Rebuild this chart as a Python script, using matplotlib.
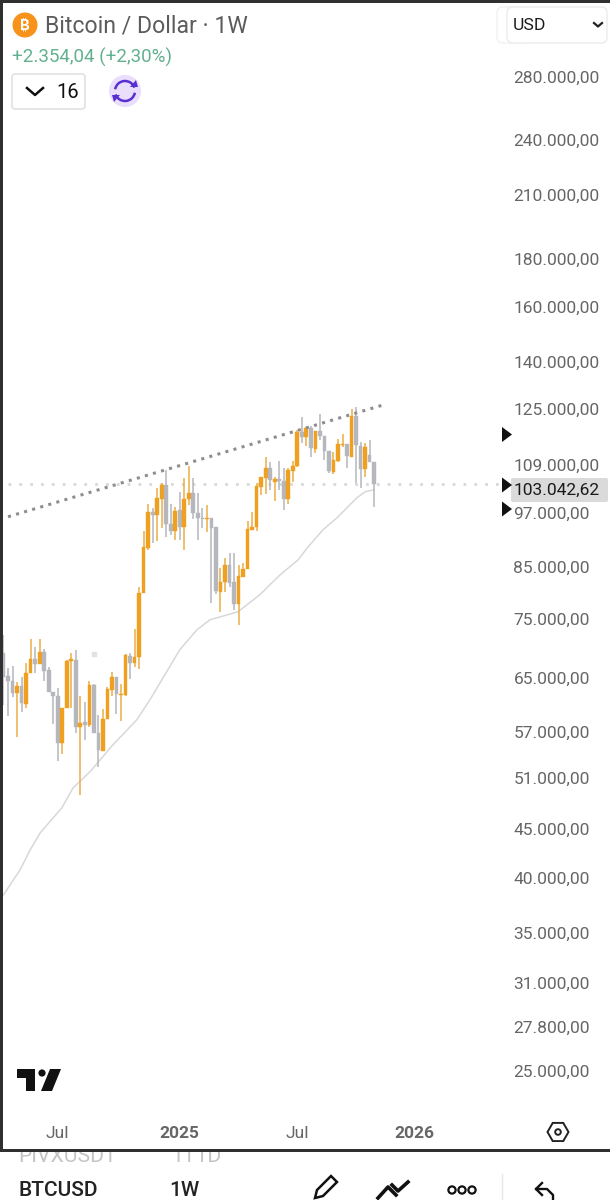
import matplotlib
matplotlib.use('Agg')
import matplotlib.pyplot as plt
from matplotlib.patches import Circle, Rectangle, Polygon, FancyBboxPatch, Arc, RegularPolygon

plt.rcParams['font.family'] = ['Roboto', 'DejaVu Sans']

# weekly candles
opens = [69060, 65300, 64520, 62670, 63740, 61010, 65800, 68060, 67250, 69230,
         66270, 62820, 62220, 55500, 60410, 67740, 67900, 57700, 58400, 57980,
         63890, 56860, 54430, 58840, 63130, 65140, 62370, 62370, 68560, 67410,
         68390, 79900, 89140, 97290, 96580, 100410, 103890, 94500, 92900, 97765,
         93810, 100410, 101880, 97050, 95880, 95650, 95880, 93810, 80100, 82070,
         85530, 82070, 77800, 83090, 84710, 93130, 93810, 103380, 105670, 108270,
         104650, 105410, 104900, 100410, 107480, 108800, 118160, 116590, 119310, 113380,
         118450, 116870, 112840, 107220, 110130, 114490, 114770, 111200, 122870, 114220,
         108000, 111730, 109860]
highs = [72150, 66590, 66910, 64370, 65140, 67410, 71440, 70080, 71440, 69740,
         66750, 62820, 63430, 60410, 67900, 69060, 69570, 62220, 61310, 64520,
         64050, 59410, 60280, 63590, 65950, 65140, 64050, 68890, 69060, 73210,
         81080, 92900, 99200, 98240, 103130, 104390, 107745, 99200, 98480, 102130,
         105670, 108800, 105670, 101880, 98240, 98960, 95880, 93810, 84930, 87000,
         88070, 88070, 85530, 85950, 95190, 97290, 104390, 105930, 111200, 109860,
         105930, 110130, 108270, 108270, 110130, 118744, 122570, 119600, 119900, 118450,
         123450, 116870, 112840, 112570, 116170, 117440, 114770, 124960, 125550, 115330,
         115050, 115890, 109860]
lows = [60860, 59270, 62070, 56310, 59850, 60410, 65800, 65800, 67250, 64520,
        62820, 58120, 53120, 54040, 60410, 60410, 56860, 48910, 55900, 57700,
        56860, 52360, 54430, 58840, 62220, 59560, 58550, 62220, 64840, 66750,
        66430, 79900, 88710, 90230, 90670, 93580, 91550, 92000, 90890, 90890,
        88710, 98960, 95650, 90890, 93580, 92670, 78000, 79700, 76300, 80100,
        81080, 76670, 73920, 83090, 84710, 93130, 92900, 101390, 101640, 102630,
        99930, 102630, 97765, 99200, 104650, 108520, 115050, 114220, 111200, 112290,
        115890, 110400, 106960, 106700, 109860, 113950, 108270, 111200, 104390, 103130,
        105930, 109860, 98480]
closes = [65140, 64520, 62670, 63740, 61160, 65800, 68060, 67250, 69230, 66110,
          62820, 62220, 55500, 60410, 67740, 68060, 57700, 58260, 57980, 63890,
          56860, 54560, 58840, 63280, 65140, 62520, 62520, 68740, 67410, 68390,
          79900, 89360, 97290, 96580, 100660, 103890, 94500, 92900, 97530, 93810,
          100410, 101880, 97050, 95880, 95650, 95880, 93580, 80300, 82070, 85530,
          81870, 77800, 83300, 84710, 93350, 93810, 103640, 105930, 108270, 105160,
          105410, 104900, 100410, 107745, 108800, 118160, 116590, 119310, 113660, 118450,
          116870, 112840, 107480, 110400, 114770, 114770, 111480, 122870, 114490, 108000,
          113950, 109860, 104140]

# moving average, sampled along the pale curve
ma_weeks = [0, 3.65, 5.9, 8.1, 12.9, 15.4, 19.1, 21.4, 24.2, 29.5, 32.4, 35.7, 39, 42.8,
            45.7, 51.9, 56.7, 61.2, 65.2, 67.4, 70.7, 73.8, 78.2, 80, 82]
ma_values = [38350, 40750, 42780, 44580, 47380, 49740, 51710, 53240, 55220, 58688, 61611,
             65470, 69571, 73036, 74833, 76300, 79520, 83470, 86579, 89360, 93127, 95880,
             100660, 102130, 102630]

trend_weeks = [1, 83.6]
trend_values = [96110, 125950]
last_line = 104140
stray_dot = (20, 68900)

price_ticks = [280000, 240000, 210000, 180000, 160000, 140000, 125000, 109000, 97000, 85000,
               75000, 65000, 57000, 51000, 45000, 40000, 35000, 31000, 27800, 25000]
price_labels = ['280.000,00', '240.000,00', '210.000,00', '180.000,00', '160.000,00',
                '140.000,00', '125.000,00', '109.000,00', '97.000,00', '85.000,00',
                '75.000,00', '65.000,00', '57.000,00', '51.000,00', '45.000,00',
                '40.000,00', '35.000,00', '31.000,00', '27.800,00', '25.000,00']
date_ticks = [12, 39, 65, 91]
date_labels = ['Jul', '2025', 'Jul', '2026']

ORANGE = '#f0a020'
WICK_ORANGE = '#e9ad45'
GRAY = '#b5b7bd'

fig = plt.figure(figsize=(6.1, 12), dpi=100, facecolor='white')
ax = fig.add_axes([3 / 610, 1 - 1149 / 1200, 607 / 610, 1146 / 1200])
ax.set_yscale('log')
ax.set_xlim(-0.11, 134.18)
ax.set_ylim(20683, 334900)

for i in range(len(opens)):
    up = closes[i] >= opens[i]
    ax.vlines(i, lows[i], highs[i], color=WICK_ORANGE if up else GRAY, lw=1.1, zorder=3)
    low_body = min(opens[i], closes[i])
    height = abs(closes[i] - opens[i])
    color = ORANGE if up else GRAY
    ax.bar(i, height, 0.82, bottom=low_body, color=color, edgecolor=color, lw=0.3, zorder=4)

ax.plot(ma_weeks, ma_values, color='#d8d8d8', lw=1.1, zorder=2)
ax.plot(trend_weeks, trend_values, color='#8e8e8e', lw=2.2, ls=(0, (1, 1.75)), zorder=5)
ax.plot([1, 110], [last_line, last_line], color='#d8d8d8', lw=2.0, ls=(0, (1, 2.9)), zorder=1)
ax.plot([stray_dot[0]], [stray_dot[1]], 's', color='#e2e2e2', ms=2.5, zorder=1)

ax.minorticks_off()
ax.yaxis.tick_right()
ax.set_yticks(price_ticks)
ax.set_yticklabels(price_labels)
ax.tick_params(axis='y', which='both', length=0, pad=-96.5 * 0.72, labelsize=12.5, labelcolor='#666666')
ax.yaxis.set_minor_locator(matplotlib.ticker.NullLocator())
ax.set_xticks(date_ticks)
ax.set_xticklabels(date_labels)
ax.tick_params(axis='x', length=0, pad=-23.5 * 0.72, labelsize=12.5, labelcolor='#666666')
for lab in ax.get_xticklabels():
    if lab.get_text().startswith('20'):
        lab.set_fontweight('bold')
for s in ax.spines.values():
    s.set_visible(False)

# app chrome drawn on top, in screen pixels
ui = fig.add_axes([0, 0, 1, 1], facecolor='none')
ui.set_xlim(0, 610)
ui.set_ylim(1200, 0)
ui.axis('off')

DARK = '#303030'
ui.add_patch(Rectangle((0, 1142), 610, 58, color='white', lw=0, zorder=1))
ui.add_patch(Rectangle((0, 0), 610, 3, color=DARK, lw=0, zorder=6))
ui.add_patch(Rectangle((0, 0), 3, 1150, color=DARK, lw=0, zorder=6))
ui.add_patch(Rectangle((0, 1149), 610, 2.5, color=DARK, lw=0, zorder=6))

# header
ui.add_patch(Circle((25, 25), 12.5, color='#f7931a', lw=0))
ui.text(25, 25.5, '₿', color='white', fontsize=10.5, fontweight='bold',
        family=['Inter', 'Noto Sans', 'Open Sans', 'Lato', 'Liberation Sans', 'DejaVu Sans'], ha='center', va='center')
ui.text(45, 26, 'Bitcoin / Dollar · 1W', color='#5c5c5c', fontsize=16.6, va='center')
ui.text(12, 57, '+2.354,04 (+2,30%)', color='#62b08f', fontsize=13.5, va='center')
ui.add_patch(FancyBboxPatch((12, 74), 73, 35, boxstyle='round,pad=0,rounding_size=3', fc='white', ec='#e2e2e2', lw=1.2))
ui.plot([27, 35, 43], [88, 95, 88], color='#111111', lw=1.8)
ui.text(56, 92, '16', color='#111111', fontsize=14.5, va='center')
ui.add_patch(Circle((125, 91), 16, color='#e9defb', lw=0))
PURPLE = '#5a2fd2'
ui.add_patch(Arc((125, 91), 20, 20, theta1=190, theta2=340, color=PURPLE, lw=1.8))
ui.add_patch(Arc((125, 91), 20, 20, theta1=10, theta2=160, color=PURPLE, lw=1.8))
ui.add_patch(Polygon([(130, 87), (138, 87), (136, 80)], color=PURPLE, lw=0))
ui.add_patch(Polygon([(112, 95), (120, 95), (114, 102)], color=PURPLE, lw=0))

# currency box
ui.add_patch(FancyBboxPatch((497, 7), 30, 36, boxstyle='round,pad=0,rounding_size=6', fc='white', ec='#f2f2f2', lw=1))
ui.add_patch(FancyBboxPatch((507, 7), 100, 36, boxstyle='round,pad=0,rounding_size=6', fc='white', ec='#ececec', lw=1))
ui.text(513, 25, 'USD', color='#1c1c1c', fontsize=12.6, va='center')
ui.plot([594, 598, 602], [23, 26.5, 23], color='#222222', lw=1.6)

# last price tag and markers
ui.add_patch(FancyBboxPatch((511, 478), 97, 24, boxstyle='round,pad=0,rounding_size=2', fc='#dadada', ec='none'))
ui.text(514, 490, '103.042,62', color='#1a1a1a', fontsize=12.5, va='center')
for ym in [434.5, 485, 509]:
    ui.add_patch(Polygon([(502, ym - 7.5), (512, ym), (502, ym + 7.5)], color='#111111', lw=0, zorder=5))

# logo
ui.add_patch(Polygon([(17, 1069), (35, 1069), (35, 1091), (26, 1091), (26, 1078), (17, 1078)], color='#111111', lw=0))
ui.add_patch(Circle((42, 1073), 3.6, color='#111111', lw=0))
ui.add_patch(Polygon([(50, 1069), (61, 1069), (52, 1091), (41, 1091)], color='#111111', lw=0))

# settings hexagon
ui.add_patch(RegularPolygon((558, 1132), 6, radius=10.5, orientation=3.14159 / 6, fc='none', ec='#222222', lw=1.4))
ui.add_patch(Circle((558, 1132), 2.8, fc='none', ec='#222222', lw=1.4))

# bottom toolbar
ui.text(18, 1156, 'PIVXUSDT', color='#c4c4c4', fontsize=15.2, va='center', zorder=2)
ui.text(171, 1156, '1T1D', color='#c4c4c4', fontsize=15.2, va='center', zorder=2)
ui.add_patch(Rectangle((0, 1142), 610, 7, color='white', lw=0, zorder=3))
ui.text(18, 1190, 'BTCUSD', color='#222222', fontsize=15, fontweight='medium', va='center')
ui.text(169, 1190, '1W', color='#222222', fontsize=15, fontweight='medium', va='center')
ui.add_patch(Polygon([(315, 1198), (317, 1190), (331, 1176), (337, 1182), (323, 1196)], fc='none', ec='#111111', lw=1.8))
ui.plot([378, 388, 396], [1198, 1187, 1195], color='#111111', lw=2.6)
ui.plot([392, 398, 408], [1185, 1191, 1182], color='#111111', lw=2.6)
for cx in [452, 462, 472]:
    ui.add_patch(Circle((cx, 1190), 3.6, fc='none', ec='#111111', lw=1.6))
ui.plot([502, 502], [1174, 1200], color='#e8e8e8', lw=1)
ui.plot([553, 553, 547, 536], [1199, 1195, 1189, 1189], color='#111111', lw=1.7)
ui.plot([542, 536, 542], [1183, 1189, 1195], color='#111111', lw=1.7)

fig.savefig('out.png', dpi=100)
